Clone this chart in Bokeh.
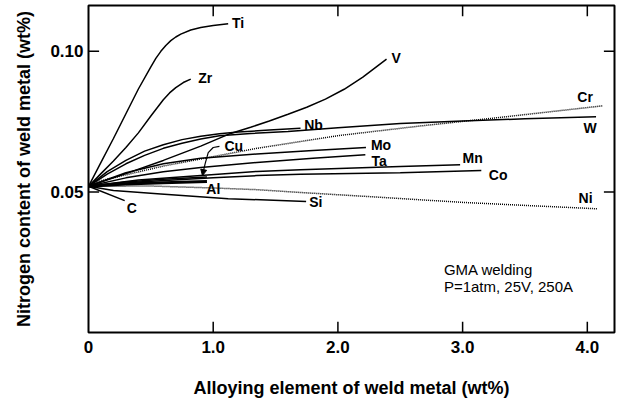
from bokeh.plotting import figure
from bokeh.models import FixedTicker, Range1d, Arrow, NormalHead, ColumnDataSource
from bokeh.core.properties import value
from bokeh.embed import file_html
from bokeh.resources import INLINE

FONT = "Liberation Sans"

# Nitrogen content of weld metal (wt%) against alloying element content (wt%)
ti_x = [0, 0.10, 0.20, 0.30, 0.40, 0.50, 0.54, 0.58, 0.62, 0.66, 0.70, 0.74, 0.82,
        0.90, 1.00, 1.12]
ti_y = [0.052, 0.0605, 0.0690, 0.0778, 0.0866, 0.0945, 0.0975, 0.1000, 0.1021,
        0.1038, 0.1051, 0.1061, 0.1076, 0.1085, 0.1092, 0.1098]

zr_x = [0, 0.10, 0.20, 0.30, 0.40, 0.50, 0.60, 0.65, 0.70, 0.76, 0.82]
zr_y = [0.052, 0.0565, 0.0610, 0.0658, 0.0710, 0.0770, 0.0828, 0.0852, 0.0871,
        0.0889, 0.0901]

v_x = [0, 0.30, 0.60, 0.90, 1.14, 1.30, 1.45, 1.60, 1.75, 1.90, 2.05, 2.20, 2.39]
v_y = [0.052, 0.0565, 0.0612, 0.0663, 0.0708, 0.0730, 0.0752, 0.0776, 0.0801,
       0.0830, 0.0865, 0.0908, 0.0972]

nb_x = [0, 0.15, 0.30, 0.45, 0.60, 0.75, 0.90, 1.05, 1.20, 1.45, 1.70]
nb_y = [0.052, 0.0572, 0.0612, 0.0645, 0.0668, 0.0686, 0.0698, 0.0707, 0.0713, 0.0720, 0.0726]

w_x = [0, 0.15, 0.30, 0.45, 0.60, 0.75, 0.90, 1.05, 1.30, 1.60, 2.00, 2.50, 3.00, 3.50, 4.07]
w_y = [0.052, 0.0563, 0.0600, 0.0630, 0.0655, 0.0673, 0.0688, 0.0700, 0.0708, 0.0715,
       0.0728, 0.0743, 0.0752, 0.0760, 0.0767]

cr_x = [0, 0.10, 0.60, 1.35, 2.00, 2.67, 3.30, 4.12]
cr_y = [0.052, 0.0540, 0.0592, 0.0655, 0.0700, 0.0735, 0.0765, 0.0806]

mo_x = [0, 0.30, 0.60, 0.90, 1.35, 1.80, 2.225]
mo_y = [0.052, 0.0568, 0.0600, 0.0620, 0.0635, 0.0647, 0.0658]

ta_x = [0, 0.30, 0.60, 0.90, 1.35, 1.80, 2.22]
ta_y = [0.052, 0.0550, 0.0572, 0.0587, 0.0605, 0.0620, 0.0632]

mn_x = [0, 0.40, 0.90, 1.35, 1.70, 2.50, 2.98]
mn_y = [0.052, 0.0542, 0.0558, 0.0573, 0.0579, 0.0590, 0.0597]

co_x = [0, 0.40, 1.00, 1.35, 1.70, 2.50, 3.15]
co_y = [0.052, 0.0535, 0.0550, 0.0558, 0.0563, 0.0568, 0.0576]

al_x = [0, 0.30, 0.60, 0.95]
al_y = [0.052, 0.0528, 0.0533, 0.0537]

cu_x = [0, 0.30, 0.60, 0.95]
cu_y = [0.052, 0.0535, 0.0545, 0.0553]

ni_x = [0, 0.50, 1.00, 1.35, 1.70, 2.30, 2.99, 3.50, 4.08]
ni_y = [0.052, 0.0521, 0.0514, 0.0508, 0.0498, 0.0482, 0.0463, 0.0452, 0.0440]

si_x = [0, 0.20, 0.58, 1.12, 1.745]
si_y = [0.052, 0.0505, 0.0493, 0.0476, 0.0466]

c_x = [0, 0.29]
c_y = [0.052, 0.0469]

# element names and where they are written
label_text = ["Ti", "Zr", "V", "Nb", "Cr", "W", "Mo", "Ta", "Mn", "Co", "Ni",
              "Si", "C", "Al", "Cu"]
label_x = [1.15, 0.88, 2.43, 1.73, 3.92, 3.97, 2.265, 2.27, 3.00, 3.21, 3.93,
           1.77, 0.306, 0.945, 1.09]
label_y = [0.1100, 0.0906, 0.0977, 0.0739, 0.0838, 0.0729, 0.0668, 0.0611, 0.0621,
           0.0561, 0.0479, 0.0463, 0.0443, 0.0511, 0.0664]

# leader from the "Cu" label down to its curve
cu_lead_x = [1.05, 1.00, 0.96, 0.935, 0.922]
cu_lead_y = [0.0662, 0.0658, 0.0640, 0.0600, 0.0575]
cu_tip = (0.914, 0.0558)

X_MAX = 4.218
Y_MAX = 0.1163
x_ticks = [0, 1, 2, 3, 4]
x_tick_labels = ["0", "1.0", "2.0", "3.0", "4.0"]
y_ticks = [0.05, 0.10]
y_tick_labels = ["0.05", "0.10"]

# inward tick length, expressed in axis units (about 10 px)
TICK_X = 0.085
TICK_Y = 0.0038

note_lines = ["GMA welding", "P=1atm, 25V, 250A"]
note_x = 2.85
note_y = [0.0223, 0.0162]

p = figure(width=624, height=403, output_backend="svg", toolbar_location=None,
           x_range=Range1d(0, X_MAX), y_range=Range1d(0, Y_MAX),
           min_border_left=88, min_border_right=10, min_border_top=5,
           min_border_bottom=71)
p.background_fill_color = "white"
p.border_fill_color = "white"
p.outline_line_color = "black"
p.outline_line_width = 2
p.xgrid.visible = False
p.ygrid.visible = False

solid = [(ti_x, ti_y), (zr_x, zr_y), (v_x, v_y), (nb_x, nb_y), (w_x, w_y),
         (mo_x, mo_y), (ta_x, ta_y), (mn_x, mn_y), (co_x, co_y), (si_x, si_y),
         (c_x, c_y), (cu_x, cu_y)]
for xs, ys in solid:
    p.line(xs, ys, line_color="black", line_width=1.5)
p.line(al_x, al_y, line_color="black", line_width=3)

for xs, ys in [(cr_x, cr_y), (ni_x, ni_y)]:
    p.line(xs, ys, line_color="black", line_width=1.5, line_dash="1 1")

src = ColumnDataSource(dict(x=label_x, y=label_y, t=label_text))
p.text("x", "y", text="t", source=src, text_font=value(FONT),
       text_font_style="bold", text_font_size=value("14px"),
       text_baseline="middle", text_align="left", text_color="black")

p.line(cu_lead_x, cu_lead_y, line_color="black", line_width=1.2)
p.add_layout(Arrow(end=NormalHead(size=6, fill_color="black", line_color="black"),
                   line_color="black", line_width=1.2,
                   x_start=cu_lead_x[-1], y_start=cu_lead_y[-1],
                   x_end=cu_tip[0], y_end=cu_tip[1]))

p.text([note_x] * len(note_lines), note_y, text=note_lines, text_font=value(FONT),
       text_font_size=value("15px"), text_baseline="middle", text_align="left",
       text_color="black")

# inward ticks on all four sides of the frame
inner_x = x_ticks[1:]
n_x = len(inner_x)
n_y = len(y_ticks)
p.segment(x0=inner_x, y0=[0] * n_x, x1=inner_x, y1=[TICK_Y] * n_x,
          line_color="black", line_width=1.5)
p.segment(x0=inner_x, y0=[Y_MAX] * n_x, x1=inner_x, y1=[Y_MAX - TICK_Y] * n_x,
          line_color="black", line_width=1.5)
p.segment(x0=[0] * n_y, y0=y_ticks, x1=[TICK_X] * n_y, y1=y_ticks,
          line_color="black", line_width=1.5)
p.segment(x0=[X_MAX] * n_y, y0=y_ticks, x1=[X_MAX - TICK_X] * n_y, y1=y_ticks,
          line_color="black", line_width=1.5)

xa = p.xaxis[0]
xa.ticker = FixedTicker(ticks=x_ticks)
xa.major_label_overrides = {float(t): s for t, s in zip(x_ticks, x_tick_labels)}
xa.axis_label = "Alloying element of weld metal (wt%)"

ya = p.yaxis[0]
ya.ticker = FixedTicker(ticks=y_ticks)
ya.major_label_overrides = {t: s for t, s in zip(y_ticks, y_tick_labels)}
ya.axis_label = "Nitrogen content of weld metal (wt%)"

for ax in (xa, ya):
    ax.axis_line_color = None
    ax.major_tick_in = 0
    ax.major_tick_out = 0
    ax.minor_tick_line_color = None
    ax.major_label_text_font = FONT
    ax.major_label_text_font_style = "bold"
    ax.major_label_text_font_size = "17px"
    ax.major_label_text_color = "black"
    ax.axis_label_text_font = FONT
    ax.axis_label_text_font_style = "bold"
    ax.axis_label_text_font_size = "18px"
    ax.axis_label_text_color = "black"
xa.major_label_standoff = 8
xa.axis_label_standoff = 22
ya.major_label_standoff = 5
ya.axis_label_standoff = 13

open("out.html", "w").write(file_html(p, INLINE))
